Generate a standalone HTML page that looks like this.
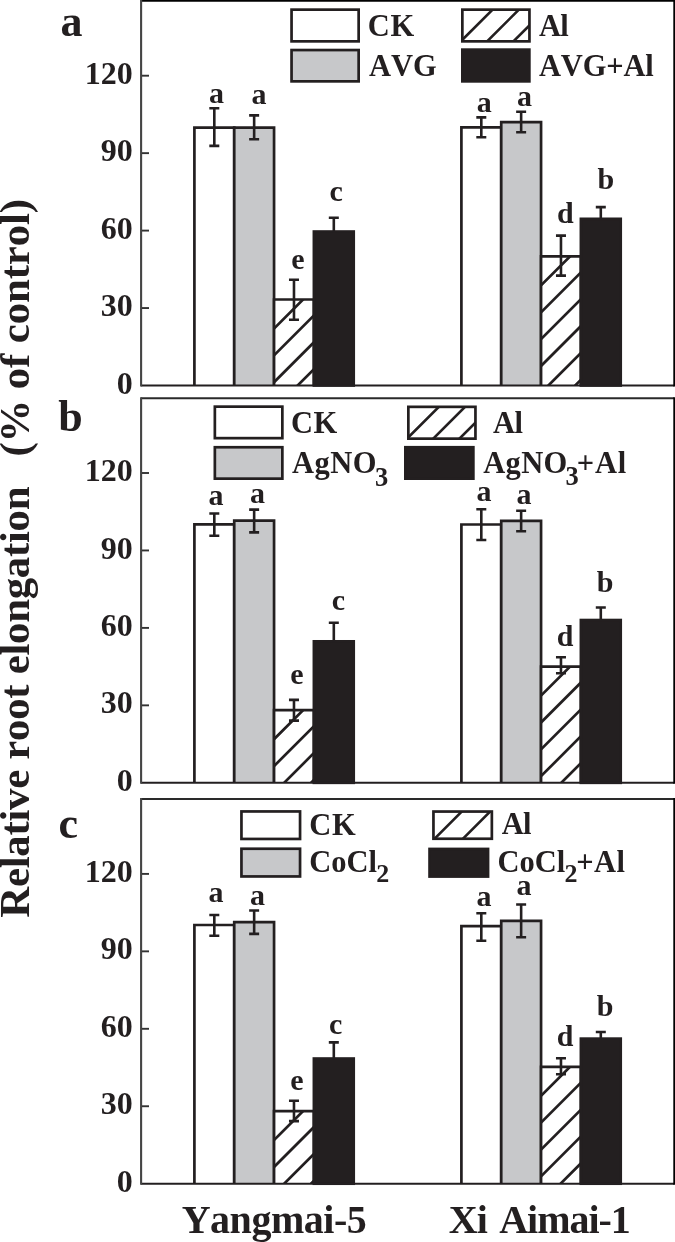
<!DOCTYPE html><html><head><meta charset="utf-8"><style>html,body{margin:0;padding:0;background:#fff;}svg{display:block;will-change:transform;}text{font-family:"Liberation Serif",serif;font-weight:bold;font-kerning:none;fill:#231f20;}</style></head><body>
<svg width="675" height="1242" viewBox="0 0 675 1242">
<rect width="675" height="1242" fill="#fff"/>
<rect x="194.40" y="127.60" width="39.83" height="257.90" fill="#fff"/>
<path d="M194.40 385.50V127.60H234.23V385.50" fill="none" stroke="#231f20" stroke-width="2.7" stroke-linejoin="miter"/>
<rect x="234.23" y="127.60" width="39.83" height="257.90" fill="#c7c8ca"/>
<path d="M234.23 385.50V127.60H274.06V385.50" fill="none" stroke="#231f20" stroke-width="2.7" stroke-linejoin="miter"/>
<rect x="274.06" y="299.50" width="39.83" height="86.00" fill="#fff"/>
<clipPath id="cp1"><rect x="274.06" y="299.50" width="39.83" height="86.00"/></clipPath>
<path clip-path="url(#cp1)" d="M212.06 390.50L308.06 294.50M238.91 390.50L334.91 294.50M265.76 390.50L361.76 294.50M292.61 390.50L388.61 294.50M319.46 390.50L415.46 294.50" stroke="#231f20" stroke-width="2.7" fill="none"/>
<path d="M274.06 385.50V299.50H313.89V385.50" fill="none" stroke="#231f20" stroke-width="2.7" stroke-linejoin="miter"/>
<rect x="313.89" y="231.55" width="39.83" height="153.95" fill="#231f20" stroke="#231f20" stroke-width="2.7"/>
<path d="M214.31 108.20V145.90M209.31 108.20H219.31M209.31 145.90H219.31" stroke="#231f20" stroke-width="2.6" fill="none"/>
<path d="M254.15 115.40V139.30M249.15 115.40H259.14M249.15 139.30H259.14" stroke="#231f20" stroke-width="2.6" fill="none"/>
<path d="M293.98 279.80V319.80M288.98 279.80H298.98M288.98 319.80H298.98" stroke="#231f20" stroke-width="2.6" fill="none"/>
<path d="M333.81 217.80V231.55M328.81 217.80H338.81" stroke="#231f20" stroke-width="2.6" fill="none"/>
<text x="216.60" y="102.70" font-size="30" text-anchor="middle">a</text>
<text x="258.90" y="103.80" font-size="30" text-anchor="middle">a</text>
<text x="298.00" y="268.80" font-size="30" text-anchor="middle">e</text>
<text x="336.20" y="200.60" font-size="30" text-anchor="middle">c</text>
<rect x="461.40" y="127.30" width="39.83" height="258.20" fill="#fff"/>
<path d="M461.40 385.50V127.30H501.23V385.50" fill="none" stroke="#231f20" stroke-width="2.7" stroke-linejoin="miter"/>
<rect x="501.23" y="122.20" width="39.83" height="263.30" fill="#c7c8ca"/>
<path d="M501.23 385.50V122.20H541.06V385.50" fill="none" stroke="#231f20" stroke-width="2.7" stroke-linejoin="miter"/>
<rect x="541.06" y="256.40" width="39.83" height="129.10" fill="#fff"/>
<clipPath id="cp2"><rect x="541.06" y="256.40" width="39.83" height="129.10"/></clipPath>
<path clip-path="url(#cp2)" d="M435.96 390.50L575.06 251.40M462.81 390.50L601.91 251.40M489.66 390.50L628.76 251.40M516.51 390.50L655.61 251.40M543.36 390.50L682.46 251.40M570.21 390.50L709.31 251.40M597.06 390.50L736.16 251.40" stroke="#231f20" stroke-width="2.7" fill="none"/>
<path d="M541.06 385.50V256.40H580.89V385.50" fill="none" stroke="#231f20" stroke-width="2.7" stroke-linejoin="miter"/>
<rect x="580.89" y="218.85" width="39.83" height="166.65" fill="#231f20" stroke="#231f20" stroke-width="2.7"/>
<path d="M481.31 117.40V137.30M476.31 117.40H486.31M476.31 137.30H486.31" stroke="#231f20" stroke-width="2.6" fill="none"/>
<path d="M521.14 111.70V132.30M516.14 111.70H526.14M516.14 132.30H526.14" stroke="#231f20" stroke-width="2.6" fill="none"/>
<path d="M560.97 235.60V275.60M555.97 235.60H565.97M555.97 275.60H565.97" stroke="#231f20" stroke-width="2.6" fill="none"/>
<path d="M600.80 207.10V218.85M595.80 207.10H605.80" stroke="#231f20" stroke-width="2.6" fill="none"/>
<text x="484.20" y="112.00" font-size="30" text-anchor="middle">a</text>
<text x="524.50" y="106.00" font-size="30" text-anchor="middle">a</text>
<text x="565.40" y="222.70" font-size="30" text-anchor="middle">d</text>
<text x="605.75" y="188.60" font-size="30" text-anchor="middle">b</text>
<path d="M141.1 0.90H674.1" fill="none" stroke="#000" stroke-width="1.9"/>
<path d="M141.1 385.50H674.3" fill="none" stroke="#231f20" stroke-width="2"/>
<path d="M674.3 -0.10V386.50" fill="none" stroke="#000" stroke-width="2"/>
<path d="M141.1 -0.10V386.50" fill="none" stroke="#444" stroke-width="2.1"/>
<text x="116.72" y="393.60" font-size="32">0</text>
<path d="M142 308.05H149" stroke="#333" stroke-width="1.9"/>
<text x="100.72" y="316.15" font-size="32">30</text>
<path d="M142 230.60H149" stroke="#333" stroke-width="1.9"/>
<text x="100.72" y="238.70" font-size="32">60</text>
<path d="M142 153.15H149" stroke="#333" stroke-width="1.9"/>
<text x="100.72" y="161.25" font-size="32">90</text>
<path d="M142 75.70H149" stroke="#333" stroke-width="1.9"/>
<text x="84.72" y="83.80" font-size="32">120</text>
<text x="60.58" y="35.60" font-size="44">a</text>
<rect x="291.55" y="9.65" width="67.10" height="31.70" fill="#fff" stroke="#231f20" stroke-width="2.7"/>
<rect x="291.55" y="50.05" width="67.10" height="31.30" fill="#c7c8ca" stroke="#231f20" stroke-width="2.7"/>
<clipPath id="cp3"><rect x="462.35" y="9.65" width="67.10" height="31.70"/></clipPath>
<path clip-path="url(#cp3)" d="M455.85 46.35L497.55 4.65M482.15 46.35L523.85 4.65M508.45 46.35L550.15 4.65" stroke="#231f20" stroke-width="2.6" fill="none"/>
<rect x="462.35" y="9.65" width="67.10" height="31.70" fill="none" stroke="#231f20" stroke-width="2.7"/>
<rect x="462.35" y="49.65" width="67.00" height="31.70" fill="#231f20" stroke="#231f20" stroke-width="2.7"/>
<text x="367.81" y="35.70" font-size="30.5" letter-spacing="0.78">CK</text>
<text x="369.00" y="76.00" font-size="30.5" letter-spacing="0.03">AVG</text>
<text x="539.00" y="35.70" font-size="30.5" letter-spacing="-0.68">Al</text>
<text x="539.00" y="76.00" font-size="30.5" letter-spacing="-0.17">AVG+Al</text>
<rect x="194.40" y="524.40" width="39.83" height="258.40" fill="#fff"/>
<path d="M194.40 782.80V524.40H234.23V782.80" fill="none" stroke="#231f20" stroke-width="2.7" stroke-linejoin="miter"/>
<rect x="234.23" y="520.60" width="39.83" height="262.20" fill="#c7c8ca"/>
<path d="M234.23 782.80V520.60H274.06V782.80" fill="none" stroke="#231f20" stroke-width="2.7" stroke-linejoin="miter"/>
<rect x="274.06" y="710.20" width="39.83" height="72.60" fill="#fff"/>
<clipPath id="cp4"><rect x="274.06" y="710.20" width="39.83" height="72.60"/></clipPath>
<path clip-path="url(#cp4)" d="M225.46 787.80L308.06 705.20M252.31 787.80L334.91 705.20M279.16 787.80L361.76 705.20M306.01 787.80L388.61 705.20M332.86 787.80L415.46 705.20" stroke="#231f20" stroke-width="2.7" fill="none"/>
<path d="M274.06 782.80V710.20H313.89V782.80" fill="none" stroke="#231f20" stroke-width="2.7" stroke-linejoin="miter"/>
<rect x="313.89" y="641.35" width="39.83" height="141.45" fill="#231f20" stroke="#231f20" stroke-width="2.7"/>
<path d="M214.31 513.50V535.70M209.31 513.50H219.31M209.31 535.70H219.31" stroke="#231f20" stroke-width="2.6" fill="none"/>
<path d="M254.15 509.60V532.40M249.15 509.60H259.14M249.15 532.40H259.14" stroke="#231f20" stroke-width="2.6" fill="none"/>
<path d="M293.98 699.90V720.60M288.98 699.90H298.98M288.98 720.60H298.98" stroke="#231f20" stroke-width="2.6" fill="none"/>
<path d="M333.81 622.80V641.35M328.81 622.80H338.81" stroke="#231f20" stroke-width="2.6" fill="none"/>
<text x="216.00" y="504.90" font-size="30" text-anchor="middle">a</text>
<text x="257.60" y="503.40" font-size="30" text-anchor="middle">a</text>
<text x="297.00" y="684.10" font-size="30" text-anchor="middle">e</text>
<text x="338.50" y="610.10" font-size="30" text-anchor="middle">c</text>
<rect x="461.40" y="524.50" width="39.83" height="258.30" fill="#fff"/>
<path d="M461.40 782.80V524.50H501.23V782.80" fill="none" stroke="#231f20" stroke-width="2.7" stroke-linejoin="miter"/>
<rect x="501.23" y="520.80" width="39.83" height="262.00" fill="#c7c8ca"/>
<path d="M501.23 782.80V520.80H541.06V782.80" fill="none" stroke="#231f20" stroke-width="2.7" stroke-linejoin="miter"/>
<rect x="541.06" y="666.60" width="39.83" height="116.20" fill="#fff"/>
<clipPath id="cp5"><rect x="541.06" y="666.60" width="39.83" height="116.20"/></clipPath>
<path clip-path="url(#cp5)" d="M448.86 787.80L575.06 661.60M475.71 787.80L601.91 661.60M502.56 787.80L628.76 661.60M529.41 787.80L655.61 661.60M556.26 787.80L682.46 661.60M583.11 787.80L709.31 661.60" stroke="#231f20" stroke-width="2.7" fill="none"/>
<path d="M541.06 782.80V666.60H580.89V782.80" fill="none" stroke="#231f20" stroke-width="2.7" stroke-linejoin="miter"/>
<rect x="580.89" y="620.05" width="39.83" height="162.75" fill="#231f20" stroke="#231f20" stroke-width="2.7"/>
<path d="M481.31 509.30V540.00M476.31 509.30H486.31M476.31 540.00H486.31" stroke="#231f20" stroke-width="2.6" fill="none"/>
<path d="M521.14 510.70V531.20M516.14 510.70H526.14M516.14 531.20H526.14" stroke="#231f20" stroke-width="2.6" fill="none"/>
<path d="M560.97 657.30V673.30M555.97 657.30H565.97M555.97 673.30H565.97" stroke="#231f20" stroke-width="2.6" fill="none"/>
<path d="M600.80 607.50V620.05M595.80 607.50H605.80" stroke="#231f20" stroke-width="2.6" fill="none"/>
<text x="484.00" y="500.50" font-size="30" text-anchor="middle">a</text>
<text x="524.00" y="504.20" font-size="30" text-anchor="middle">a</text>
<text x="565.20" y="646.40" font-size="30" text-anchor="middle">d</text>
<text x="605.20" y="591.70" font-size="30" text-anchor="middle">b</text>
<path d="M141.1 398.30H674.1" fill="none" stroke="#2a2a2a" stroke-width="2"/>
<path d="M141.1 782.80H674.3" fill="none" stroke="#231f20" stroke-width="2"/>
<path d="M674.3 397.30V783.80" fill="none" stroke="#000" stroke-width="2"/>
<path d="M141.1 397.30V783.80" fill="none" stroke="#444" stroke-width="2.1"/>
<text x="116.72" y="790.90" font-size="32">0</text>
<path d="M142 705.35H149" stroke="#333" stroke-width="1.9"/>
<text x="100.72" y="713.45" font-size="32">30</text>
<path d="M142 627.90H149" stroke="#333" stroke-width="1.9"/>
<text x="100.72" y="636.00" font-size="32">60</text>
<path d="M142 550.45H149" stroke="#333" stroke-width="1.9"/>
<text x="100.72" y="558.55" font-size="32">90</text>
<path d="M142 473.00H149" stroke="#333" stroke-width="1.9"/>
<text x="84.72" y="481.10" font-size="32">120</text>
<text x="58.14" y="431.40" font-size="44">b</text>
<rect x="214.85" y="406.65" width="67.50" height="31.50" fill="#fff" stroke="#231f20" stroke-width="2.7"/>
<rect x="214.85" y="447.25" width="67.50" height="31.40" fill="#c7c8ca" stroke="#231f20" stroke-width="2.7"/>
<clipPath id="cp6"><rect x="408.35" y="406.85" width="67.10" height="31.80"/></clipPath>
<path clip-path="url(#cp6)" d="M402.05 443.65L443.85 401.85M428.25 443.65L470.05 401.85M454.45 443.65L496.25 401.85" stroke="#231f20" stroke-width="2.6" fill="none"/>
<rect x="408.35" y="406.85" width="67.10" height="31.80" fill="none" stroke="#231f20" stroke-width="2.7"/>
<rect x="405.35" y="447.25" width="68.00" height="31.40" fill="#231f20" stroke="#231f20" stroke-width="2.7"/>
<text x="291.01" y="433.30" font-size="30.5" letter-spacing="0.48">CK</text>
<text x="292.00" y="473.30" font-size="30.5" letter-spacing="0.52">AgNO</text>
<text x="374.90" y="485.70" font-size="26.5">3</text>
<text x="493.10" y="432.80" font-size="30.5" letter-spacing="-0.68">Al</text>
<text x="483.20" y="472.90" font-size="30.5" letter-spacing="0.35">AgNO</text>
<text x="565.50" y="485.20" font-size="26.5">3</text>
<text x="576.69" y="472.90" font-size="30.5" letter-spacing="0.83">+Al</text>
<rect x="194.40" y="925.00" width="39.83" height="258.70" fill="#fff"/>
<path d="M194.40 1183.70V925.00H234.23V1183.70" fill="none" stroke="#231f20" stroke-width="2.7" stroke-linejoin="miter"/>
<rect x="234.23" y="922.10" width="39.83" height="261.60" fill="#c7c8ca"/>
<path d="M234.23 1183.70V922.10H274.06V1183.70" fill="none" stroke="#231f20" stroke-width="2.7" stroke-linejoin="miter"/>
<rect x="274.06" y="1111.10" width="39.83" height="72.60" fill="#fff"/>
<clipPath id="cp7"><rect x="274.06" y="1111.10" width="39.83" height="72.60"/></clipPath>
<path clip-path="url(#cp7)" d="M225.46 1188.70L308.06 1106.10M252.31 1188.70L334.91 1106.10M279.16 1188.70L361.76 1106.10M306.01 1188.70L388.61 1106.10M332.86 1188.70L415.46 1106.10" stroke="#231f20" stroke-width="2.7" fill="none"/>
<path d="M274.06 1183.70V1111.10H313.89V1183.70" fill="none" stroke="#231f20" stroke-width="2.7" stroke-linejoin="miter"/>
<rect x="313.89" y="1058.55" width="39.83" height="125.15" fill="#231f20" stroke="#231f20" stroke-width="2.7"/>
<path d="M214.31 915.00V935.70M209.31 915.00H219.31M209.31 935.70H219.31" stroke="#231f20" stroke-width="2.6" fill="none"/>
<path d="M254.15 910.50V933.90M249.15 910.50H259.14M249.15 933.90H259.14" stroke="#231f20" stroke-width="2.6" fill="none"/>
<path d="M293.98 1100.70V1121.10M288.98 1100.70H298.98M288.98 1121.10H298.98" stroke="#231f20" stroke-width="2.6" fill="none"/>
<path d="M333.81 1042.40V1058.55M328.81 1042.40H338.81" stroke="#231f20" stroke-width="2.6" fill="none"/>
<text x="216.00" y="901.90" font-size="30" text-anchor="middle">a</text>
<text x="257.60" y="904.90" font-size="30" text-anchor="middle">a</text>
<text x="297.00" y="1090.10" font-size="30" text-anchor="middle">e</text>
<text x="335.60" y="1033.70" font-size="30" text-anchor="middle">c</text>
<rect x="461.40" y="926.10" width="39.83" height="257.60" fill="#fff"/>
<path d="M461.40 1183.70V926.10H501.23V1183.70" fill="none" stroke="#231f20" stroke-width="2.7" stroke-linejoin="miter"/>
<rect x="501.23" y="920.80" width="39.83" height="262.90" fill="#c7c8ca"/>
<path d="M501.23 1183.70V920.80H541.06V1183.70" fill="none" stroke="#231f20" stroke-width="2.7" stroke-linejoin="miter"/>
<rect x="541.06" y="1066.80" width="39.83" height="116.90" fill="#fff"/>
<clipPath id="cp8"><rect x="541.06" y="1066.80" width="39.83" height="116.90"/></clipPath>
<path clip-path="url(#cp8)" d="M448.16 1188.70L575.06 1061.80M475.01 1188.70L601.91 1061.80M501.86 1188.70L628.76 1061.80M528.71 1188.70L655.61 1061.80M555.56 1188.70L682.46 1061.80M582.41 1188.70L709.31 1061.80" stroke="#231f20" stroke-width="2.7" fill="none"/>
<path d="M541.06 1183.70V1066.80H580.89V1183.70" fill="none" stroke="#231f20" stroke-width="2.7" stroke-linejoin="miter"/>
<rect x="580.89" y="1038.65" width="39.83" height="145.05" fill="#231f20" stroke="#231f20" stroke-width="2.7"/>
<path d="M481.31 913.30V940.80M476.31 913.30H486.31M476.31 940.80H486.31" stroke="#231f20" stroke-width="2.6" fill="none"/>
<path d="M521.14 904.50V937.30M516.14 904.50H526.14M516.14 937.30H526.14" stroke="#231f20" stroke-width="2.6" fill="none"/>
<path d="M560.97 1058.30V1074.20M555.97 1058.30H565.97M555.97 1074.20H565.97" stroke="#231f20" stroke-width="2.6" fill="none"/>
<path d="M600.80 1032.00V1038.65M595.80 1032.00H605.80" stroke="#231f20" stroke-width="2.6" fill="none"/>
<text x="484.00" y="905.80" font-size="30" text-anchor="middle">a</text>
<text x="524.00" y="894.90" font-size="30" text-anchor="middle">a</text>
<text x="565.20" y="1046.40" font-size="30" text-anchor="middle">d</text>
<text x="605.20" y="1016.20" font-size="30" text-anchor="middle">b</text>
<path d="M141.1 799.00H674.1" fill="none" stroke="#2a2a2a" stroke-width="2"/>
<path d="M141.1 1183.70H674.3" fill="none" stroke="#231f20" stroke-width="2"/>
<path d="M674.3 798.00V1184.70" fill="none" stroke="#000" stroke-width="2"/>
<path d="M141.1 798.00V1184.70" fill="none" stroke="#444" stroke-width="2.1"/>
<text x="116.72" y="1191.80" font-size="32">0</text>
<path d="M142 1106.25H149" stroke="#333" stroke-width="1.9"/>
<text x="100.72" y="1114.35" font-size="32">30</text>
<path d="M142 1028.80H149" stroke="#333" stroke-width="1.9"/>
<text x="100.72" y="1036.90" font-size="32">60</text>
<path d="M142 951.35H149" stroke="#333" stroke-width="1.9"/>
<text x="100.72" y="959.45" font-size="32">90</text>
<path d="M142 873.90H149" stroke="#333" stroke-width="1.9"/>
<text x="84.72" y="882.00" font-size="32">120</text>
<text x="58.40" y="837.60" font-size="44">c</text>
<rect x="241.45" y="811.45" width="58.60" height="27.50" fill="#fff" stroke="#231f20" stroke-width="2.7"/>
<rect x="241.45" y="848.75" width="58.60" height="27.70" fill="#c7c8ca" stroke="#231f20" stroke-width="2.7"/>
<clipPath id="cp9"><rect x="433.45" y="811.55" width="58.40" height="27.20"/></clipPath>
<path clip-path="url(#cp9)" d="M429.55 843.75L466.75 806.55M457.95 843.75L495.15 806.55" stroke="#231f20" stroke-width="2.6" fill="none"/>
<rect x="433.45" y="811.55" width="58.40" height="27.20" fill="none" stroke="#231f20" stroke-width="2.7"/>
<rect x="429.55" y="848.95" width="58.50" height="27.60" fill="#231f20" stroke="#231f20" stroke-width="2.7"/>
<text x="309.21" y="834.70" font-size="30.5" letter-spacing="0.78">CK</text>
<text x="309.21" y="871.70" font-size="30.5">CoCl</text>
<text x="376.21" y="881.50" font-size="26">2</text>
<text x="501.70" y="834.00" font-size="30.5" letter-spacing="-0.68">Al</text>
<text x="497.41" y="871.80" font-size="30.5">CoCl</text>
<text x="564.51" y="882.00" font-size="26">2</text>
<text x="576.19" y="871.80" font-size="30.5" letter-spacing="0.43">+Al</text>
<text x="181.70" y="1232.90" font-size="40" letter-spacing="-0.48">Yangmai-5</text>
<text x="448.66" y="1233.20" font-size="40" letter-spacing="-0.87">Xi</text>
<text x="499.21" y="1233.30" font-size="40" letter-spacing="-1.02">Aimai-1</text>
<text transform="translate(28.70,917.00) rotate(-90)" x="-0.73" y="0" font-size="42.85" letter-spacing="-0.29">Relative root elongation</text>
<text transform="translate(28.70,454.70) rotate(-90)" x="-1.88" y="0" font-size="42.85" letter-spacing="-0.14">(% of control)</text>
</svg></body></html>
